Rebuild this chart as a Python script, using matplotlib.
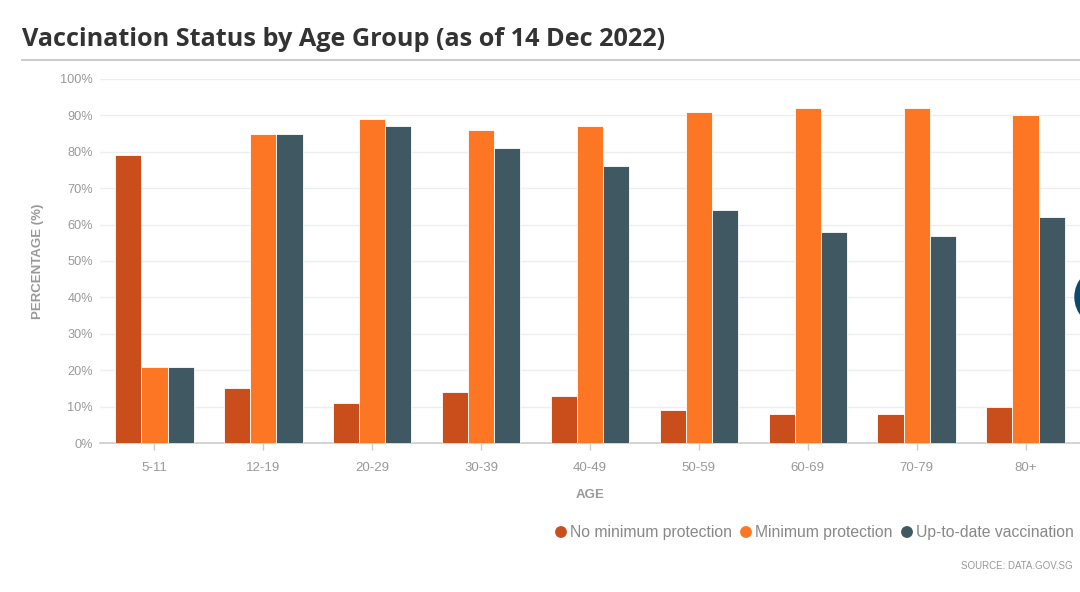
import matplotlib
matplotlib.use("Agg")
import matplotlib.pyplot as plt
import numpy as np
from matplotlib.patches import Circle

categories = ["5-11", "12-19", "20-29", "30-39", "40-49", "50-59", "60-69", "70-79", "80+"]
no_min = [79, 15, 11, 14, 13, 9, 8, 8, 10]
min_prot = [21, 85, 89, 86, 87, 91, 92, 92, 90]
up_to_date = [21, 85, 87, 81, 76, 64, 58, 57, 62]
series_names = ["No minimum protection", "Minimum protection", "Up-to-date vaccination"]
colors = ["#C94E1B", "#FD7624", "#3F5861"]
yticks = [0, 10, 20, 30, 40, 50, 60, 70, 80, 90, 100]

W, H = 1080, 592
fig = plt.figure(figsize=(W / 100, H / 100), dpi=100)
fig.patch.set_facecolor("white")

ax = fig.add_axes([100 / W, (H - 443) / H, 980 / W, (443 - 79) / H])
x = np.arange(len(categories))
bw = 0.24
for i, (vals, c) in enumerate(zip([no_min, min_prot, up_to_date], colors)):
    ax.bar(x + (i - 1) * bw, vals, bw, color=c, edgecolor="white", linewidth=0.6, zorder=3)

ax.set_xlim(-0.5, len(categories) - 0.5)
ax.set_ylim(0, 100)
ax.set_yticks(yticks)
ax.set_yticklabels([f"{v}%" for v in yticks])
ax.set_xticks(x)
ax.set_xticklabels(categories)
ax.grid(axis="y", color="#EEEEEE", linewidth=1, zorder=0)
for s in ["top", "right", "left"]:
    ax.spines[s].set_visible(False)
ax.spines["bottom"].set_color("#CCCCCC")
ax.spines["bottom"].set_linewidth(1.2)
ax.tick_params(axis="y", length=0, pad=5, labelcolor="#999999", labelsize=9.2)
ax.tick_params(axis="x", length=5, width=1, color="#CCCCCC", pad=9, labelcolor="#999999", labelsize=9.5)
for lab in ax.get_xticklabels() + ax.get_yticklabels():
    lab.set_family("Liberation Sans")

ax.set_ylabel("PERCENTAGE (%)", family="Liberation Sans", fontweight="bold", color="#999999", fontsize=9.5)
ax.yaxis.set_label_coords(-56 / 980, 0.5)

fig.text(22 / W, 1 - 40 / H, "Vaccination Status by Age Group (as of 14 Dec 2022)", family="Open Sans",
         fontweight="bold", fontsize=18.2, color="#333333", ha="left", va="center")
fig.add_artist(plt.Line2D([22 / W, 1], [1 - 60 / H, 1 - 60 / H], color="#CCCCCC", linewidth=1.5,
                          transform=fig.transFigure))

fig.text(590 / W, 1 - 495 / H, "AGE", family="Liberation Sans", fontweight="bold", fontsize=9.5,
         color="#999999", ha="center", va="center")

# legend
dot_x = [561, 746, 907]
for dx, name, c in zip(dot_x, series_names, colors):
    fig.add_artist(Circle((dx, H - 532), 5.2, color=c, transform=None))
    fig.text((dx + 9) / W, 1 - 532 / H, name, family="Liberation Sans", fontsize=11.3,
             color="#888888", ha="left", va="center")

fig.text(1073 / W, 1 - 566 / H, "SOURCE: DATA.GOV.SG", family="Liberation Sans", fontsize=7,
         color="#999999", ha="right", va="center")

# partially visible UI circle at right edge
fig.add_artist(Circle((1105, H - 297), 30, color="#0B4A6B", transform=None, clip_on=False))

fig.savefig("out.png", dpi=100, facecolor="white")
